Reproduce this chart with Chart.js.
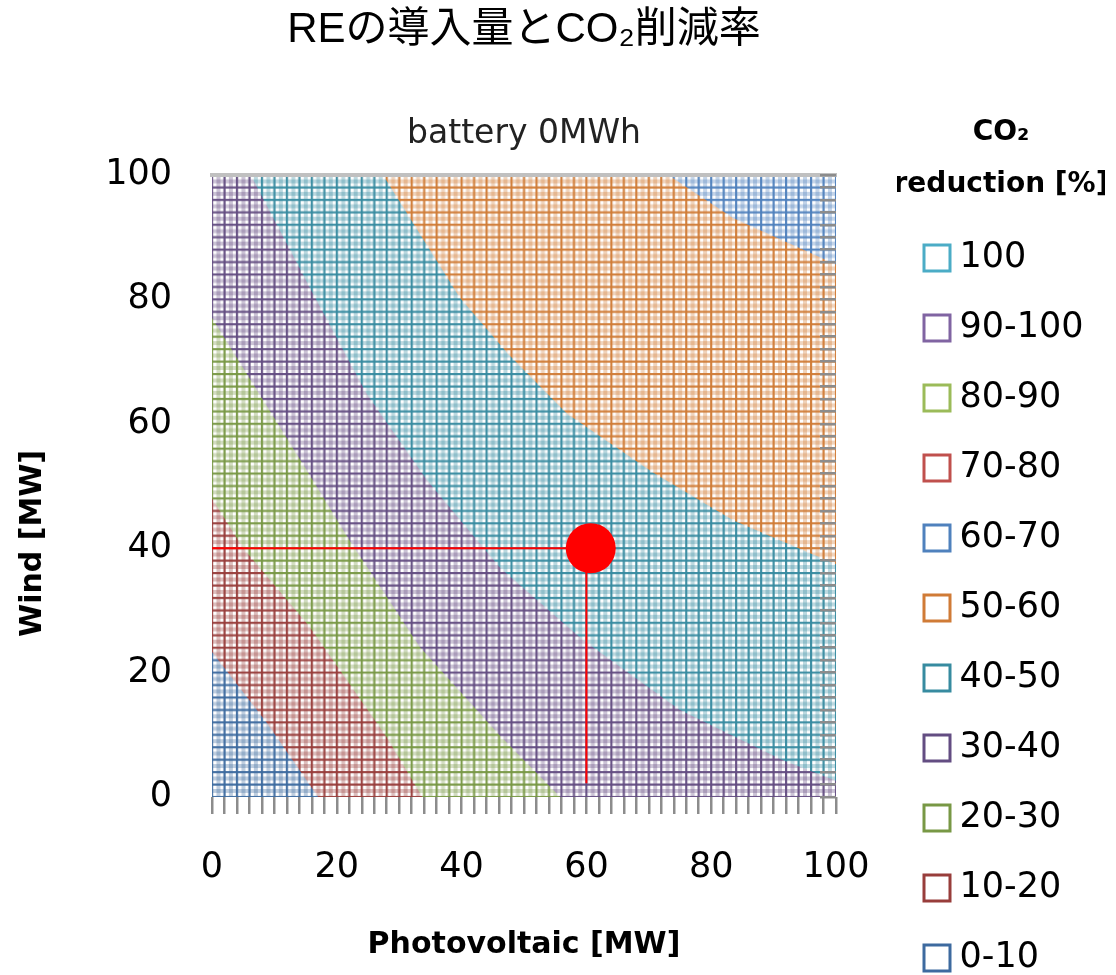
<!DOCTYPE html>
<html>
<head>
<meta charset="utf-8">
<title>REの導入量とCO2削減率</title>
<script src="https://cdn.jsdelivr.net/npm/chart.js@4.4.1/dist/chart.umd.min.js"></script>
<style>
  html, body { margin: 0; padding: 0; background: #fff; }
  #wrap { width: 1116px; height: 975px; }
</style>
</head>
<body>
<div id="wrap"><canvas id="chart" width="1116" height="975"></canvas></div>
<script>
// legend order (top to bottom), CO2 reduction bands in %
const bandLabels = ['100', '90-100', '80-90', '70-80', '60-70', '50-60', '40-50', '30-40', '20-30', '10-20', '0-10'];
const bandColors = ['#4bacc6', '#8064a2', '#9bbb59', '#c0504d', '#4f81bd', '#d07b36', '#378ba0', '#634d82', '#789845', '#983d3b', '#3d6a9f'];

// lower edge of each band: x = photovoltaic MW, y = wind MW
const base0X = [0, 100];
const base0Y = [0, 0];
const b1X = [0, 8.8, 17, 100];
const b1Y = [23.3, 11.9, 0, 0];
const b2X = [0, 5, 15.7, 28, 33.7, 100];
const b2Y = [48, 40, 27.3, 9.6, 0, 0];
const b3X = [0, 15.5, 22, 33.3, 46.2, 55.8, 100];
const b3Y = [77, 52, 41.3, 24.1, 9.8, 0, 0];
const b4X = [6.2, 16.2, 24.8, 34.5, 46.2, 59.5, 75, 91.5, 100];
const b4Y = [100, 80.9, 64.8, 50.9, 36.8, 25.2, 14, 5.9, 2.6];
const b5X = [27.4, 39.7, 47.5, 56.9, 70.6, 83.5, 100];
const b5Y = [100, 80.3, 71.2, 61.6, 52.2, 44.5, 37.4];
const b6X = [73.1, 83.5, 100];
const b6Y = [100, 93.1, 85.6];

// operating point and its guide lines
const guideHX = [0, 60];
const guideHY = [40, 40];
const guideVX = [60, 60];
const guideVY = [40, 2.2];
const pointX = [60.7];
const pointY = [40];

const axisTicks = [0, 20, 40, 60, 80, 100];

const bandEdges = {
  '0-10': [base0X, base0Y],
  '10-20': [b1X, b1Y],
  '20-30': [b2X, b2Y],
  '30-40': [b3X, b3Y],
  '40-50': [b4X, b4Y],
  '50-60': [b5X, b5Y],
  '60-70': [b6X, b6Y]
};

function points(xs, ys) {
  return xs.map((x, i) => ({ x: x, y: ys[i] }));
}

// wireframe look of the excel surface: coloured grid, one cell per 2 MW
const patterns = {};
function gridFill(chart, color) {
  const area = chart.chartArea;
  if (!area || !area.width) return color;
  const key = [color, area.left, area.top, area.width, area.height].join('|');
  if (patterns[key]) return patterns[key];
  const cell = 12.5, n = 10, size = cell * n;
  const tile = document.createElement('canvas');
  tile.width = size;
  tile.height = size;
  const g = tile.getContext('2d');
  g.fillStyle = '#fff';
  g.fillRect(0, 0, size, size);
  g.fillStyle = color;
  g.globalAlpha = 0.33;
  for (let i = 0; i < n; i++) {
    g.fillRect(i * cell + 5.5, 0, 4, size);
    g.fillRect(0, i * cell + 5.5, size, 4);
  }
  g.globalAlpha = 0.95;
  for (let i = 0; i < n; i++) {
    g.fillRect(i * cell, 0, 2.2, size);
    g.fillRect(0, i * cell, size, 2.2);
  }
  const p = chart.ctx.createPattern(tile, 'repeat');
  const sx = area.width / 50 / cell;
  const sy = area.height / 50 / cell;
  p.setTransform(new DOMMatrix([sx, 0, 0, sy, area.left - 1.1 * sx, area.top - 1.1 * sy]));
  patterns[key] = p;
  return p;
}

const datasets = bandLabels.map((label, i) => {
  const edge = bandEdges[label];
  return {
    label: label,
    data: edge ? points(edge[0], edge[1]) : [],
    fill: 'end',
    backgroundColor: (ctx) => gridFill(ctx.chart, bandColors[i]),
    borderColor: 'rgba(0,0,0,0)',
    borderWidth: 0,
    pointRadius: 0
  };
});

datasets.push(
  { label: 'guide-h', data: points(guideHX, guideHY), borderColor: '#ff0000', borderWidth: 2, pointRadius: 0, fill: false, order: -1 },
  { label: 'guide-v', data: points(guideVX, guideVY), borderColor: '#ff0000', borderWidth: 2, pointRadius: 0, fill: false, order: -1 },
  { label: 'point', data: points(pointX, pointY), showLine: false, pointRadius: 25, pointBackgroundColor: '#ff0000', pointBorderColor: '#ff0000', pointBorderWidth: 0, fill: false, order: -2 }
);

// legend box is sized from its items only; the two-line title needs more room
const legendWidth = {
  id: 'legendWidth',
  beforeLayout(chart) {
    const lg = chart.legend;
    if (lg && !lg._fitWrapped) {
      const fit = lg.fit;
      lg.fit = function () {
        fit.call(this);
        this.width = 208;
      };
      lg._fitWrapped = true;
    }
  }
};

Chart.defaults.font.family = '"DejaVu Sans", sans-serif';
Chart.defaults.color = '#000';

new Chart(document.getElementById('chart'), {
  type: 'line',
  data: { datasets: datasets },
  plugins: [legendWidth],
  options: {
    responsive: false,
    animation: false,
    events: [],
    layout: { padding: { left: 0, right: 11, top: 0, bottom: -40 } },
    plugins: {
      title: {
        display: true,
        text: 'REの導入量とCO₂削減率',
        fullSize: false,
        color: '#000',
        font: { family: '"Liberation Sans", "Noto Sans CJK JP", sans-serif', size: 42, weight: 'normal' },
        padding: { top: 5, bottom: 59 }
      },
      subtitle: {
        display: true,
        text: 'battery 0MWh',
        fullSize: false,
        color: '#222',
        font: { size: 33 },
        padding: { top: 0, bottom: 21 }
      },
      legend: {
        position: 'right',
        align: 'start',
        onClick: null,
        title: {
          display: true,
          text: ['CO₂', 'reduction [%]'],
          color: '#000',
          font: { size: 28, weight: 'bold', lineHeight: 52 / 28 },
          padding: { top: 119, bottom: 34.5 }
        },
        labels: {
          font: { size: 35 },
          color: '#000',
          usePointStyle: true,
          boxWidth: 10,
          boxHeight: 26,
          padding: 35,
          filter: (item) => item.datasetIndex < bandLabels.length,
          generateLabels: (chart) =>
            Chart.defaults.plugins.legend.labels.generateLabels(chart).map((item) =>
              Object.assign(item, {
                fillStyle: '#ffffff',
                strokeStyle: bandColors[item.datasetIndex],
                lineWidth: 3,
                pointStyle: 'rect',
                rotation: 0
              }))
        }
      },
      tooltip: { enabled: false }
    },
    scales: {
      x: {
        type: 'linear',
        position: 'bottom',
        min: 0,
        max: 100,
        afterFit: (s) => { s.height = 218; },
        border: { display: false },
        grid: { display: true, drawOnChartArea: false, drawTicks: true, tickLength: 17, color: '#8c8c8c', lineWidth: 2.5 },
        ticks: {
          stepSize: 2,
          autoSkip: false,
          maxRotation: 0,
          minRotation: 0,
          padding: 33,
          font: { size: 35 },
          color: '#000',
          callback: (v) => (axisTicks.includes(v) ? v : '')
        },
        title: {
          display: true,
          text: 'Photovoltaic [MW]',
          color: '#000',
          font: { size: 30, weight: 'bold' },
          padding: { top: 0, bottom: 52 }
        }
      },
      x2: {
        type: 'linear',
        position: 'top',
        min: 0,
        max: 100,
        afterFit: (s) => { s.height = 0; },
        ticks: { display: false },
        grid: { display: false },
        border: { display: true, color: '#c0c0c0', width: 4, z: 1 }
      },
      y: {
        type: 'linear',
        position: 'left',
        min: 0,
        max: 100,
        afterFit: (s) => { s.width = 212; },
        border: { display: false },
        grid: { display: false },
        ticks: { stepSize: 20, padding: 32, font: { size: 35 }, color: '#000' },
        title: {
          display: true,
          text: 'Wind [MW]           ',
          color: '#000',
          font: { size: 30, weight: 'bold' },
          padding: { top: 15, bottom: 0 }
        }
      },
      y2: {
        type: 'linear',
        position: 'right',
        min: 0,
        max: 100,
        afterFit: (s) => { s.width = 61; },
        border: { display: false },
        ticks: { display: false, stepSize: 2 },
        grid: { display: true, drawOnChartArea: false, drawTicks: true, tickLength: -16, color: '#8c8c8c', lineWidth: 2.5, z: 1 }
      }
    }
  }
});
</script>
</body>
</html>
